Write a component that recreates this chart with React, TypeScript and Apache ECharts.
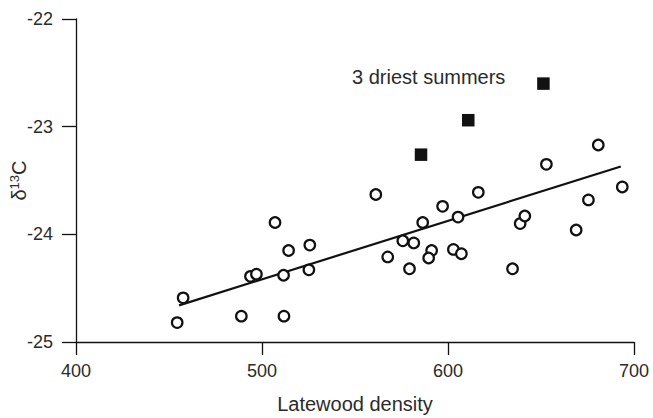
import React, { useEffect, useRef } from "react";
import * as echarts from "echarts";

// Latewood density vs δ13C, one point per year
const densityOpen = [
  457.6, 454.4, 488.9, 511.8, 493.8, 497.0, 511.6, 507.0, 514.3, 525.7, 525.2,
  561.2, 567.6, 575.7, 581.6, 579.3, 586.4, 597.1, 591.2, 589.6, 602.9, 607.2,
  605.4, 616.3, 634.7, 638.8, 641.3, 652.9, 668.9, 675.5, 680.8, 693.7,
];
const d13cOpen = [
  -24.59, -24.82, -24.76, -24.76, -24.39, -24.37, -24.38, -23.89, -24.15, -24.1,
  -24.33, -23.63, -24.21, -24.06, -24.08, -24.32, -23.89, -23.74, -24.15, -24.22,
  -24.14, -24.18, -23.84, -23.61, -24.32, -23.9, -23.83, -23.35, -23.96, -23.68,
  -23.17, -23.56,
];

// The three driest summers
const densityDry = [585.5, 610.9, 651.3];
const d13cDry = [-23.26, -22.94, -22.6];

// Least-squares fit line end points
const fitDensity = [455.4, 692.9];
const fitD13c = [-24.66, -23.37];

const xTicks = [400, 500, 600, 700];
const yTicks = [-25, -24, -23, -22];

const FONT = "'Liberation Sans', Arial, Helvetica, sans-serif";
const INK = "#111111";
const TEXT = "#2b2b2b";

export default function App() {
  const ref = useRef<HTMLDivElement>(null);

  useEffect(() => {
    if (!ref.current) return;
    const chart = echarts.init(ref.current, undefined, { renderer: "svg" });

    chart.setOption({
      animation: false,
      backgroundColor: "#ffffff",
      grid: { left: 76, right: 19, top: 19, bottom: 76, outerBoundsMode: "none", containLabel: false },
      xAxis: {
        type: "value",
        min: xTicks[0],
        max: xTicks[xTicks.length - 1],
        interval: 100,
        name: "Latewood density",
        nameLocation: "middle",
        nameGap: 52,
        nameMoveOverlap: false,
        nameTextStyle: { fontFamily: FONT, fontSize: 20, color: TEXT },
        axisLine: { show: true, lineStyle: { color: INK, width: 1.3 } },
        axisTick: { show: true, length: 13, lineStyle: { color: INK, width: 1.3 } },
        splitLine: { show: false },
        axisLabel: { fontFamily: FONT, fontSize: 18, color: TEXT, margin: 20 },
      },
      yAxis: {
        type: "value",
        min: yTicks[0],
        max: yTicks[yTicks.length - 1],
        interval: 1,
        name: "{d|δ}{s|13}{d|C}",
        nameLocation: "middle",
        nameGap: 47,
        nameRotate: 90,
        nameMoveOverlap: false,
        nameTextStyle: {
          fontFamily: FONT,
          color: TEXT,
          rich: {
            d: { fontFamily: FONT, fontSize: 20, color: TEXT },
            s: { fontFamily: FONT, fontSize: 13, color: TEXT, verticalAlign: "top", padding: [0, 0, 8, 0] },
          },
        },
        axisLine: { show: true, lineStyle: { color: INK, width: 1.3 } },
        axisTick: { show: true, length: 14, lineStyle: { color: INK, width: 1.3 } },
        splitLine: { show: false },
        axisLabel: { fontFamily: FONT, fontSize: 18, color: TEXT, margin: 23 },
      },
      graphic: [
        {
          type: "text",
          left: 352,
          top: 67,
          style: {
            text: "3 driest summers",
            fontFamily: FONT,
            fontSize: 20,
            fill: TEXT,
          },
        },
      ],
      series: [
        {
          type: "line",
          data: fitDensity.map((x, i) => [x, fitD13c[i]]),
          showSymbol: false,
          symbol: "none",
          lineStyle: { color: INK, width: 2.2 },
          z: 1,
        },
        {
          type: "scatter",
          data: densityOpen.map((x, i) => [x, d13cOpen[i]]),
          symbol: "circle",
          symbolSize: 10.5,
          itemStyle: { color: "#ffffff", borderColor: INK, borderWidth: 2.2, opacity: 1 },
          z: 3,
        },
        {
          type: "scatter",
          data: densityDry.map((x, i) => [x, d13cDry[i]]),
          symbol: "rect",
          symbolSize: 12.5,
          itemStyle: { color: INK, opacity: 1 },
          z: 3,
        },
      ],
    });

    return () => chart.dispose();
  }, []);

  return (
    <div
      ref={ref}
      style={{ position: "fixed", left: 0, top: 0, width: 653, height: 418, background: "#fff" }}
    />
  );
}
